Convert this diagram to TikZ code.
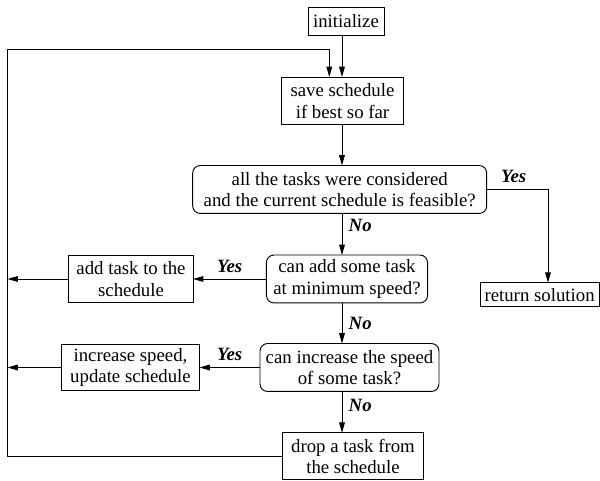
\documentclass[tikz,border=0pt]{standalone}
\usepackage{fontspec}
\setmainfont{Liberation Serif}
\usetikzlibrary{arrows.meta,positioning,calc}
\tikzset{
	stepbox/.style={draw, inner sep=2pt, align=center, outer sep=0},
	askbox/.style={draw, rounded corners=4pt, inner sep=2pt, align=center, outer sep=0},
	ans/.style={font=\fontsize{10}{11.5}\selectfont\bfseries\itshape}
}
\newcommand{\yes}{Yes}
\newcommand{\no}{No}

\begin{document}
\begin{tikzpicture}[->,>={Triangle[length=5.5pt,width=3pt]},line width=0.5pt,
				x=0.532pt, y=-0.532pt, font=\fontsize{10}{11.5}\selectfont]
				\useasboundingbox (0,0) rectangle (600,481);
				
				\node[stepbox, minimum width=40.4pt, minimum height=14.9pt] (init) at (346, 21) {initialize};
				\node[stepbox, minimum width=65.4pt, minimum height=25.5pt] (save) at (342.5, 101) {save schedule\\ if best so far};
				\node[askbox, minimum width=156.4pt, minimum height=25.5pt] (allDone) at (339.7, 189.5) {all the tasks were considered\\ and the current schedule is feasible?};
				\node[stepbox, minimum width=63.3pt, minimum height=12.8pt] (ret) at (539.6, 294.7) {return solution};
				\node[askbox, minimum width=85.7pt, minimum height=25.5pt] (canAdd) at (347, 279) {can add some task\\ at minimum speed?};
				\node[stepbox, minimum width=66pt, minimum height=25.5pt] (add) at (131, 279) {add task to the\\ schedule};
				\node[askbox, minimum width=95.2pt, minimum height=25.5pt] (canInc) at (349.5, 367.5) {can increase the speed\\ of some task?};
				\node[stepbox, minimum width=73.4pt, minimum height=23.4pt] (inc) at (130.5, 367.5) {increase speed,\\ update schedule};
				\node[stepbox, minimum width=75.5pt, minimum height=25pt] (drop) at (353, 456.3) {drop a task from\\ the schedule};
				
				% spine, side rail and loop corners
				\coordinate (spine) at (342, 0);
				\coordinate (retx) at (548, 0);
				\coordinate (rail) at (7.5, 0);
				\coordinate (loopTL) at (7.5, 49.3);
				\coordinate (loopTR) at (329.3, 49.3);
				
				\path (init.south -| spine) edge (save.north -| spine);
				\path (save.south -| spine) edge (allDone.north -| spine);
				\path (allDone.south -| spine) edge node[ans, right, pos=0.3] {\no} (canAdd.north -| spine);
				\path (canAdd.south -| spine) edge node[ans, right, pos=0.5] {\no} (canInc.north -| spine);
				\path (canInc.south -| spine) edge node[ans, right, pos=0.35] {\no} (drop.north -| spine);
				
				\draw (allDone.east) -| node[ans, above, pos=0.22] {\yes} (ret.north -| retx);
				\path (canAdd.west) edge node[ans, above] {\yes} (canAdd.west -| add.east);
				\path (canInc.west) edge node[ans, above] {\yes} (canInc.west -| inc.east);
				\path (add.west) edge (add.west -| rail);
				\path (inc.west) edge (inc.west -| rail);
				
				\draw (drop.west) -| (loopTL) -- (loopTR) -- (save.north -| loopTR);
			\end{tikzpicture}
\end{document}
